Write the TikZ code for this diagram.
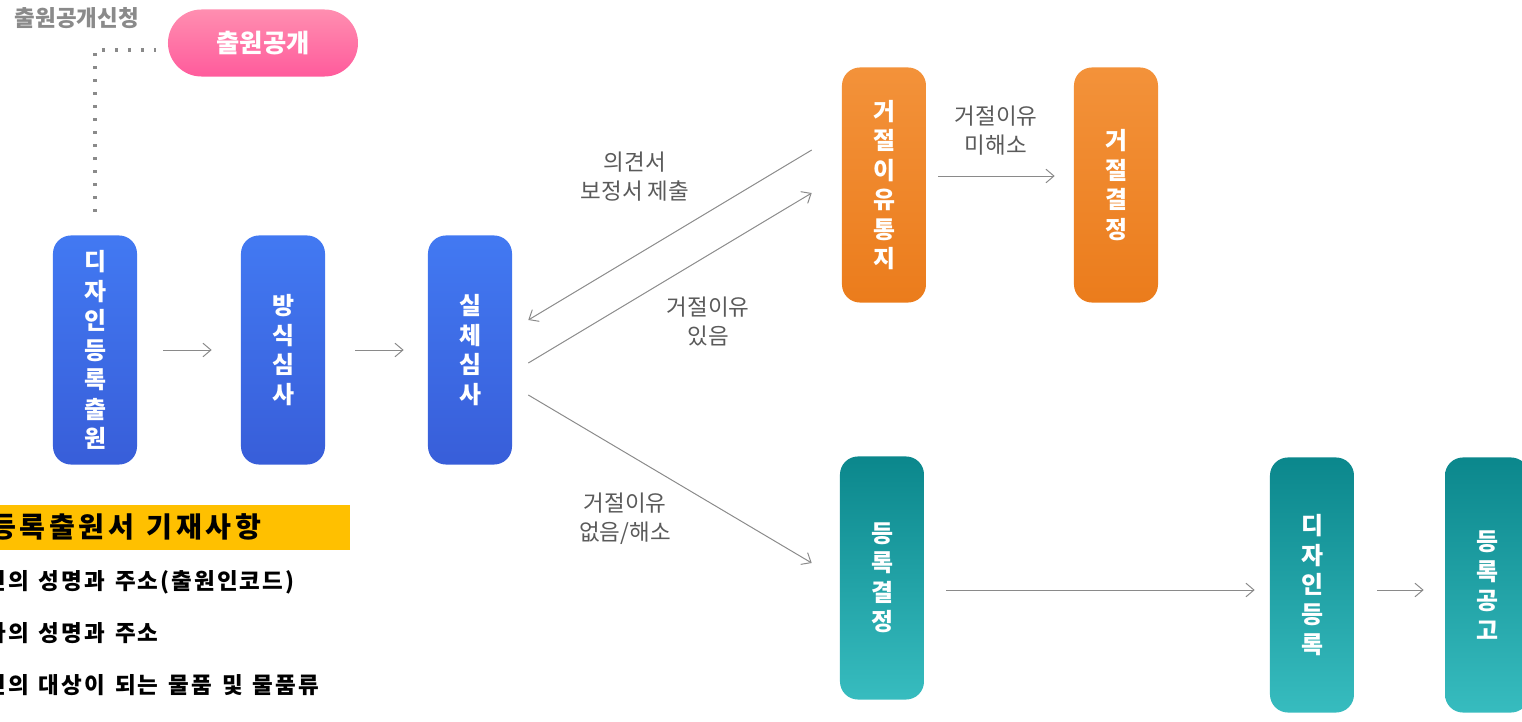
\documentclass[tikz,border=0pt]{standalone}
\usepackage{fontspec}
\setmainfont{Noto Sans CJK KR}
\usetikzlibrary{arrows.meta}

\definecolor{bluetop}{HTML}{4279F2}
\definecolor{bluebot}{HTML}{385ED9}
\definecolor{orgtop}{HTML}{F3923A}
\definecolor{orgbot}{HTML}{EB7C1C}
\definecolor{tealtop}{HTML}{0B878C}
\definecolor{tealbot}{HTML}{37BCBF}
\definecolor{pinktop}{HTML}{FF8EB0}
\definecolor{pinkbot}{HTML}{FF5B9C}
\definecolor{hdyellow}{HTML}{FFC000}
\definecolor{linegray}{HTML}{8A8A8A}
\definecolor{labelgray}{HTML}{5A5A5A}

\newcommand\widespace{\spaceskip=0.45em\relax}

\tikzset{
	stepbox/.style={rounded corners=0.45cm, minimum width=2.1cm, minimum height=5.725cm,
		text=white, align=center, inner sep=0pt,
		font=\fontsize{17pt}{21pt}\selectfont\bfseries},
	bluebox/.style={stepbox, top color=bluetop, bottom color=bluebot},
	orangebox/.style={stepbox, minimum height=5.875cm, top color=orgtop, bottom color=orgbot},
	tealbox/.style={stepbox, top color=tealtop, bottom color=tealbot},
	arr/.style={draw=linegray, line width=0.7pt, -{Straight Barb[length=0.2cm,width=0.34cm]}},
	lbl/.style={text=labelgray, align=center, font=\fontsize{16pt}{20.6pt}\selectfont},
	listitem/.style={anchor=west, inner sep=0pt, execute at begin node=\widespace,
		font=\fontsize{16pt}{18pt}\selectfont\bfseries\addfontfeature{LetterSpace=9}},
}

\begin{document}
\begin{tikzpicture}[x=0.025cm,y=-0.025cm]
\useasboundingbox (0,0) rectangle (1522,722);
\clip (0,0) rectangle (1522,722);

% examination flow
\node[bluebox](ap) at(95,350) {디\\자\\인\\등\\록\\출\\원};
\node[bluebox](fm) at(283,350) {방\\식\\심\\사};
\node[bluebox](sb) at(470,350) {실\\체\\심\\사};
\node[orangebox](rn) at(884,185) {거\\절\\이\\유\\통\\지};
\node[orangebox](rd) at(1116,185) {거\\절\\결\\정};
\node[tealbox, minimum height=6.075cm](gd) at(882,578) {등\\록\\결\\정};
\node[tealbox, minimum height=6.375cm](dr) at(1312,585) {디\\자\\인\\등\\록};
\node[tealbox, minimum height=6.375cm](gg) at(1487,585) {등\\록\\공\\고};

% publication
\node[rounded corners=0.8375cm, minimum width=4.75cm, minimum height=1.675cm,
	top color=pinktop, bottom color=pinkbot, text=white,
	font=\fontsize{18pt}{21pt}\selectfont\bfseries](pub) at(263,43) {출원공개};
\node[text=linegray, font=\fontsize{16pt}{18pt}\selectfont\bfseries](req) at(77,18) {출원공개신청};

\draw[linegray, line width=2.2pt, dash pattern=on 0.075cm off 0.25cm]
([yshift=0.575cm]ap.north) |- ([shift={(-12,7)}]pub.west);

\draw[arr] ([xshift=0.65cm]ap.east) -- ([xshift=-0.725cm]fm.west);
\draw[arr] ([xshift=0.75cm]fm.east) -- ([xshift=-0.6cm]sb.west);

\draw[arr] ([shift={(-30,-35)}]rn.west) -- ([shift={(16,-30)}]sb.east);
\draw[arr] ([shift={(16,13)}]sb.east) -- ([shift={(-30,8)}]rn.west);
\draw[arr] ([shift={(12,-9)}]rn.east) -- ([shift={(-19,-9)}]rd.west);
\draw[arr] ([shift={(16,45)}]sb.east) -- ([shift={(-28,-15)}]gd.west);
\draw[arr] ([shift={(22,12)}]gd.east) -- ([shift={(-15,5)}]dr.west);
\draw[arr] ([shift={(23,5)}]dr.east) -- ([shift={(-21,5)}]gg.west);

\node[lbl](l1) at(635,177) {의견서\\보정서 제출};
\node[lbl](l2) at(708,322) {거절이유\\있음};
\node[lbl](l3) at(996,131) {거절이유\\미해소};
\node[lbl](l4) at(625,519) {거절이유\\없음/해소};

% application items
\node[fill=hdyellow, minimum width=9cm, minimum height=1.125cm, anchor=east](hd) at(350,527.5) {};
\node[anchor=west, inner sep=0pt, execute at begin node=\widespace,
	font=\fontsize{20pt}{22pt}\selectfont\bfseries\addfontfeature{LetterSpace=13}](hdt) at(-10,527) {등록출원서 기재사항};
\node[listitem](i1) at(-15,582) {인의 성명과 주소(출원인코드)};
\node[listitem](i2) at(-15,633) {자의 성명과 주소};
\node[listitem](i3) at(-15,685) {인의 대상이 되는 물품 및 물품류};

\end{tikzpicture}
\end{document}
